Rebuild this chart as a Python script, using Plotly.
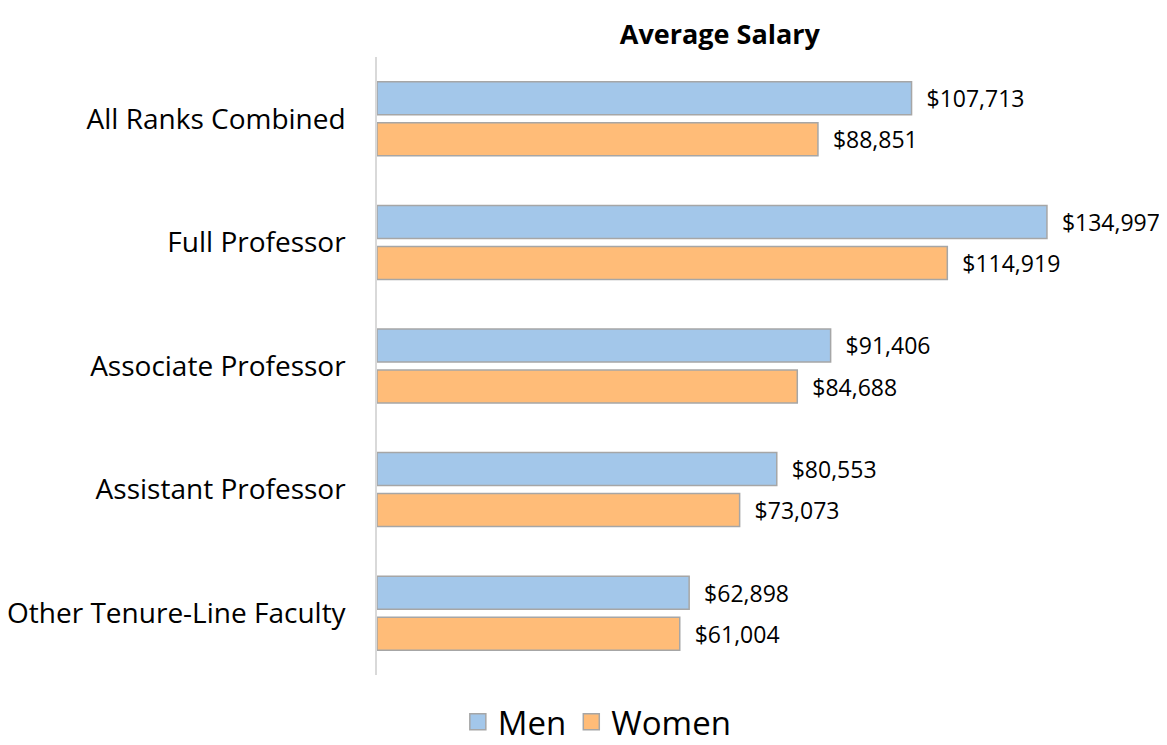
import plotly.graph_objects as go

# Data
categories = ['All Ranks Combined', 'Full Professor', 'Associate Professor',
              'Assistant Professor', 'Other Tenure-Line Faculty']
men = [107713, 134997, 91406, 80553, 62898]
women = [88851, 114919, 84688, 73073, 61004]

MEN_COLOR = '#A3C7EA'
WOMEN_COLOR = '#FFBC78'
OUTLINE = '#A6A6A6'
FONT = 'Open Sans'

fig = go.Figure()

for name, vals, color in [('Men', men, MEN_COLOR), ('Women', women, WOMEN_COLOR)]:
    fig.add_trace(go.Bar(
        y=categories,
        x=vals,
        name=name,
        orientation='h',
        marker=dict(color=color, line=dict(color=OUTLINE, width=1.5)),
        texttemplate='  $%{x:,.0f}',
        textposition='outside',
        textfont=dict(size=23, color='#000000', family=FONT),
        cliponaxis=False,
        showlegend=False,
    ))
    # bigger legend swatch
    fig.add_trace(go.Scatter(
        x=[None], y=[None], mode='markers', name=name,
        marker=dict(symbol='square', size=18, color=color,
                    line=dict(color=OUTLINE, width=1.5)),
    ))

# page body adds an 8px offset, so margins are shifted by that amount
fig.update_layout(
    width=1167,
    height=745,
    barmode='group',
    bargap=0.336,
    bargroupgap=0.196,
    paper_bgcolor='white',
    plot_bgcolor='white',
    margin=dict(l=369, r=65, t=49, b=78),
    title=dict(
        text='<b>Average Salary</b>',
        font=dict(size=27, color='#000000', family=FONT),
        x=0.610, xref='container', xanchor='center',
        y=0.965, yref='container', yanchor='middle',
    ),
    xaxis=dict(
        range=[0, 147700],
        showgrid=False,
        showticklabels=False,
        zeroline=False,
        showline=False,
        automargin=False,
    ),
    yaxis=dict(
        autorange='reversed',
        showgrid=False,
        showline=True,
        linecolor='#D9D9D9',
        linewidth=1.5,
        ticks='',
        ticklabelstandoff=24,
        automargin=False,
        tickfont=dict(size=28, color='#000000', family=FONT),
    ),
    legend=dict(
        orientation='h',
        x=0.505, xref='container', xanchor='center',
        y=0.042, yref='container', yanchor='middle',
        font=dict(size=33, color='#000000', family=FONT),
        itemsizing='trace',
    ),
    font=dict(family=FONT),
)

fig.write_html('out.html')
